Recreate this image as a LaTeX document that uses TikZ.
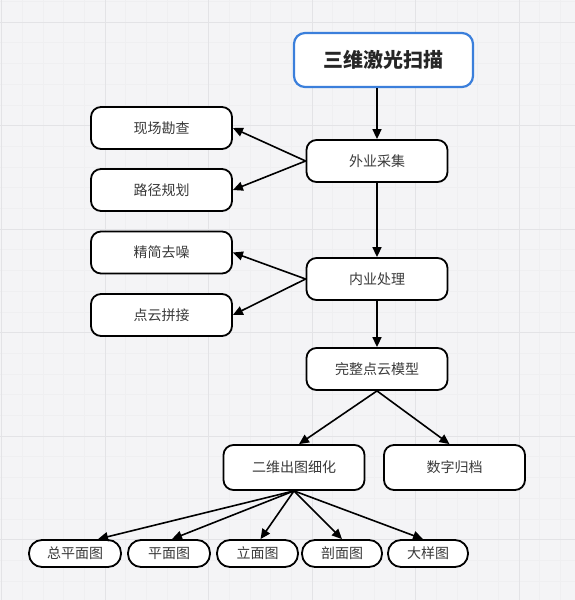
\documentclass[tikz,border=0pt]{standalone}
\usepackage{fontspec}
\setmainfont{Noto Sans CJK SC}
\usetikzlibrary{arrows.meta,calc}
\definecolor{bgc}{HTML}{F4F4F6}
\definecolor{minorc}{HTML}{EFEFF1}
\definecolor{majorc}{HTML}{E3E3E6}
\definecolor{bluec}{HTML}{3B7FDB}
\definecolor{txtc}{HTML}{3A3A3A}
\tikzset{
  box/.style={draw=black, line width=1.8pt, fill=white, rounded corners=10pt,
    minimum width=141pt, minimum height=42pt, inner sep=0pt,
    text=txtc, font=\fontsize{14}{16}\selectfont},
  pill/.style={draw=black, line width=1.8pt, fill=white, rounded corners=13pt,
    minimum height=27pt, inner sep=0pt,
    text=txtc, font=\fontsize{14}{16}\selectfont},
  topbox/.style={draw=bluec, line width=2.2pt, fill=white, rounded corners=11pt,
    minimum width=179pt, minimum height=54pt, inner sep=0pt,
    text=black!85, font=\fontsize{20}{24}\selectfont\bfseries},
  arr/.style={line width=1.6pt, -{Triangle[length=10pt,width=9pt]}}
}
\begin{document}
\begin{tikzpicture}[x=1pt,y=-1pt]
\useasboundingbox (0,0) rectangle (575,600);
\fill[bgc] (0,0) rectangle (575,600);
% minor grid
\foreach \i in {0,...,29} {
  \draw[minorc, line width=0.5pt] ({1.5+20.7*\i},0) -- ({1.5+20.7*\i},600);
  \draw[minorc, line width=0.5pt] (0,{1.3+20.7*\i}) -- (575,{1.3+20.7*\i});
}
% major grid
\foreach \i in {0,...,5} {
  \draw[majorc, line width=1pt] ({1.5+103.5*\i},0) -- ({1.5+103.5*\i},600);
  \draw[majorc, line width=1pt] (0,{22+103.5*\i-103.5}) -- (575,{22+103.5*\i-103.5});
}
\draw[majorc, line width=1pt] (0,539.5) -- (575,539.5);

% nodes
\node[topbox] (top) at (383.5,60) {三维激光扫描};
\node[box] (wy) at (377,161) {外业采集};
\node[box] (xc) at (161.5,128) {现场勘查};
\node[box] (lj) at (161.5,190) {路径规划};
\node[box] (ny) at (377,279) {内业处理};
\node[box] (jj) at (161.5,252.5) {精简去噪};
\node[box] (dy) at (161.5,315) {点云拼接};
\node[box] (wz) at (377,369) {完整点云模型};
\node[box, minimum height=45pt] (ew) at (294,467.5) {二维出图细化};
\node[box, minimum height=45pt] (sz) at (454.5,467.5) {数字归档};
\node[pill, minimum width=92pt] (zpm) at (75,553.5) {总平面图};
\node[pill, minimum width=82pt] (pm) at (169,553.5) {平面图};
\node[pill, minimum width=81pt] (lm) at (257.5,553.5) {立面图};
\node[pill, minimum width=80pt] (pom) at (342,553.5) {剖面图};
\node[pill, minimum width=80pt] (dym) at (428,553.5) {大样图};

% connectors
\draw[arr] (top.south -| wy.north) -- (wy.north);
\draw[arr] (wy.west) -- (xc.east);
\draw[arr] (wy.west) -- (lj.east);
\draw[arr] (wy.south) -- (ny.north);
\draw[arr] (ny.west) -- (jj.east);
\draw[arr] (ny.west) -- (dy.east);
\draw[arr] (ny.south) -- (wz.north);
\draw[arr] (wz.south) -- ($(ew.north)+(5,0)$);
\draw[arr] (wz.south) -- ($(sz.north)+(-5,0)$);
\draw[arr] (ew.south) -- ($(zpm.north)+(23,0)$);
\draw[arr] (ew.south) -- ($(pm.north)+(3,0)$);
\draw[arr] (ew.south) -- ($(lm.north)+(3,0)$);
\draw[arr] (ew.south) -- (pom.north);
\draw[arr] (ew.south) -- ($(dym.north)+(-5,0)$);
\end{tikzpicture}
\end{document}
